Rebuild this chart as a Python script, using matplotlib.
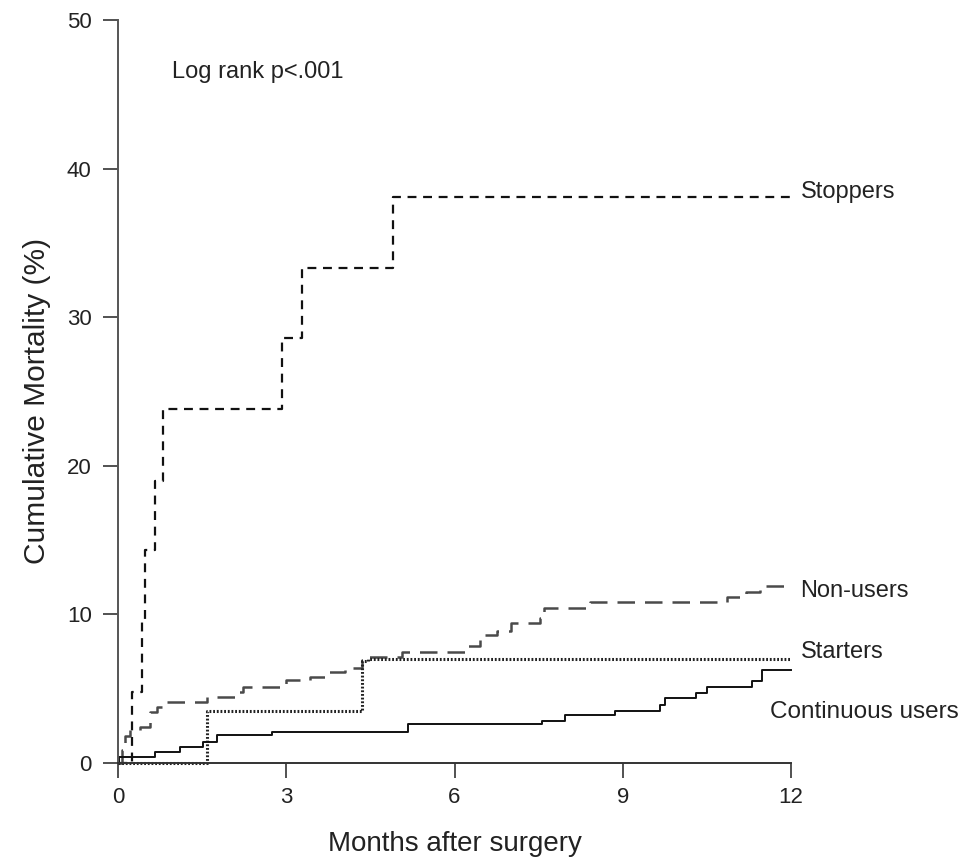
import matplotlib
matplotlib.use("Agg")
import matplotlib.pyplot as plt

plt.rcParams['font.family'] = ['Liberation Sans', 'DejaVu Sans']

## step data (months, cumulative mortality %)
stop_t = [0, 0.25, 0.42, 0.48, 0.66, 0.80, 2.92, 3.28, 4.90, 12]
stop_v = [0, 4.8, 9.5, 14.3, 19.0, 23.8, 28.6, 33.3, 38.1, 38.1]

non_t = [0, 0.07, 0.12, 0.22, 0.40, 0.57, 0.69, 0.80, 1.58, 2.14, 2.23, 3.00, 3.42,
         3.72, 4.05, 4.35, 4.46, 5.06, 6.19, 6.45, 6.75, 7.00, 7.52, 7.60, 8.41,
         10.85, 11.20, 11.45, 12]
non_v = [0, 0.9, 1.8, 2.2, 2.4, 3.4, 3.8, 4.1, 4.45, 4.8, 5.1, 5.6, 5.8,
         6.1, 6.4, 6.9, 7.1, 7.5, 7.9, 8.6, 8.9, 9.4, 9.75, 10.4, 10.8,
         11.2, 11.5, 11.9, 11.9]

start_t = [0, 1.58, 4.35, 4.45, 12]
start_v = [0, 3.5, 6.85, 7.0, 7.0]

cont_t = [0, 0.02, 0.66, 1.10, 1.52, 1.76, 2.74, 5.17, 7.56, 7.97, 8.86, 9.66,
          9.75, 10.30, 10.50, 11.30, 11.48, 12]
cont_v = [0, 0.4, 0.75, 1.1, 1.4, 1.9, 2.1, 2.6, 2.85, 3.2, 3.5, 3.9,
          4.35, 4.7, 5.1, 5.5, 6.25, 6.25]

x_ticks = [0, 3, 6, 9, 12]
y_ticks = [0, 10, 20, 30, 40, 50]

txt = '#222222'

fig = plt.figure(figsize=(9.65, 8.57), dpi=100)
ax = fig.add_axes([0.1223, 0.1097, 0.6974, 0.8670])

ax.step(stop_t, stop_v, where='post', color='#111111', lw=1.6,
        linestyle=(0, (4, 3)), clip_on=False)
ax.step(non_t, non_v, where='post', color='#4a4a4a', lw=1.8,
        linestyle=(0, (7, 4)), clip_on=False)
ax.step(start_t, start_v, where='post', color='#222222', lw=2.2,
        linestyle=(0, (0.6, 0.6)), clip_on=False)
ax.step(cont_t, cont_v, where='post', color='#111111', lw=1.4, clip_on=False)

ax.set_xlim(0, 12)
ax.set_ylim(0, 50)
ax.set_xticks(x_ticks)
ax.set_yticks(y_ticks)
ax.tick_params(axis='x', direction='out', length=11, width=1.2, colors='#333333',
               labelsize=16, labelcolor=txt, pad=6)
ax.tick_params(axis='y', direction='out', length=11, width=1.2, colors='#333333',
               labelsize=16, labelcolor=txt, pad=8)

for side in ['top', 'right']:
    ax.spines[side].set_visible(False)
ax.spines['left'].set_color('#555555')
ax.spines['left'].set_linewidth(1.4)
ax.spines['bottom'].set_color('#333333')
ax.spines['bottom'].set_linewidth(1.4)

ax.set_xlabel('Months after surgery', fontsize=20, color=txt, labelpad=17)
ax.set_ylabel('Cumulative Mortality (%)', fontsize=21.5, color=txt, labelpad=11)
ax.yaxis.label.set_y(0.487)

ax.text(0.96, 46.5, 'Log rank p<.001', fontsize=17, color=txt, va='center')
ax.text(12.17, 38.4, 'Stoppers', fontsize=17, color=txt, va='center', clip_on=False)
ax.text(12.17, 11.6, 'Non-users', fontsize=17, color=txt, va='center', clip_on=False)
ax.text(12.17, 7.5, 'Starters', fontsize=17, color=txt, va='center', clip_on=False)
ax.text(11.62, 3.4, 'Continuous users', fontsize=17.5, color=txt, va='center', clip_on=False)

fig.savefig('out.png', dpi=100)
